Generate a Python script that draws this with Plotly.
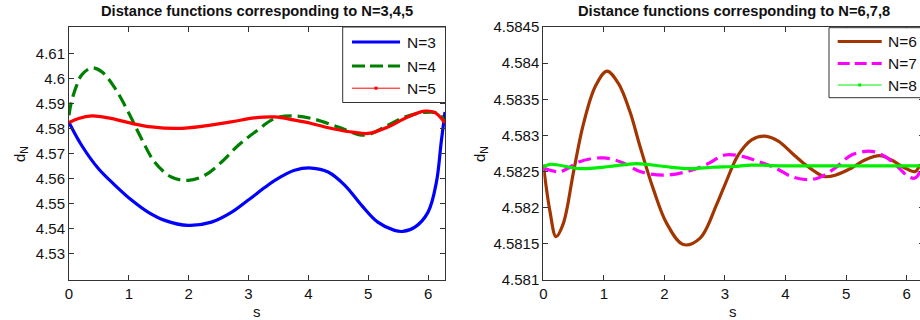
import plotly.graph_objects as go

# ---------------- data ----------------
s3 = [0, 0.21, 0.49, 0.77, 1.05, 1.32, 1.60, 1.99, 2.38, 2.72, 2.99, 3.27, 3.44, 3.77,
      4.05, 4.33, 4.61, 4.89, 5.16, 5.44, 5.58, 5.78, 6.0, 6.14, 6.22, 6.2832]
d3 = [4.5824, 4.5733, 4.5640, 4.5573, 4.5513, 4.5466, 4.5433, 4.5413, 4.5426, 4.5466,
      4.5513, 4.5564, 4.5593, 4.5633, 4.5642, 4.5626, 4.5573, 4.5493, 4.5426, 4.5393,
      4.5389, 4.5406, 4.5466, 4.5586, 4.5746, 4.5866]

s4 = [0, 0.04, 0.13, 0.21, 0.38, 0.55, 0.77, 0.99, 1.21, 1.43, 1.71, 1.99, 2.27, 2.55,
      2.83, 3.11, 3.44, 3.72, 4.05, 4.5, 4.94, 5.33, 5.61, 5.94, 6.17, 6.2832]
d4 = [4.5853, 4.5906, 4.5973, 4.6013, 4.6042, 4.6026, 4.5960, 4.5866, 4.5760, 4.5666,
      4.5606, 4.5593, 4.5613, 4.5666, 4.5733, 4.5786, 4.5840, 4.5850, 4.5840, 4.5806,
      4.5773, 4.5813, 4.5846, 4.5864, 4.5860, 4.5826]

s5 = [0, 0.16, 0.38, 0.66, 1.05, 1.38, 1.82, 2.27, 2.71, 3.10, 3.44, 3.77, 4.05, 4.39,
      4.77, 5.0, 5.33, 5.61, 5.94, 6.11, 6.2832]
d5 = [4.5824, 4.5840, 4.5850, 4.5842, 4.5820, 4.5806, 4.5800, 4.5810, 4.5826, 4.5842,
      4.5846, 4.5833, 4.5820, 4.5800, 4.5784, 4.5780, 4.5806, 4.5840, 4.5869, 4.5864,
      4.5822]

s6 = [0, 0.11, 0.21, 0.33, 0.50, 0.66, 0.86, 1.05, 1.24, 1.43, 1.60, 1.82, 2.04, 2.31,
      2.59, 2.86, 3.0, 3.22, 3.44, 3.66, 3.88, 4.10, 4.32, 4.54, 4.65, 4.82, 5.09, 5.31,
      5.56, 5.75, 5.97, 6.14, 6.22]
d6 = [4.58260, 4.58195, 4.58160, 4.58178, 4.58250, 4.58315, 4.58368, 4.58389, 4.58372,
      4.58333, 4.58284, 4.58225, 4.58178, 4.58149, 4.58158, 4.58204, 4.58232, 4.58273,
      4.58294, 4.58299, 4.58292, 4.58276, 4.58260, 4.58247, 4.58243, 4.58245, 4.58255,
      4.58266, 4.58272, 4.58266, 4.58255, 4.58250, 4.58260]

s7 = [0, 0.28, 0.61, 0.99, 1.32, 1.60, 1.98, 2.37, 2.70, 3.0, 3.28, 3.55, 3.83, 4.10,
      4.32, 4.54, 4.82, 5.09, 5.42, 5.64, 5.81, 6.03, 6.14, 6.22]
d7 = [4.58255, 4.58250, 4.58264, 4.58269, 4.58262, 4.58250, 4.58245, 4.58250, 4.58260,
      4.58273, 4.58271, 4.58264, 4.58255, 4.58243, 4.58239, 4.58241, 4.58255, 4.58273,
      4.58278, 4.58271, 4.58260, 4.58243, 4.58241, 4.58250]

s8 = [0, 0.11, 0.61, 1.1, 1.54, 2.0, 2.42, 2.8, 3.14, 3.44, 3.9, 4.5, 5.0, 5.5, 6.0, 6.22]
d8 = [4.58256, 4.58260, 4.58254, 4.58257, 4.58261, 4.58257, 4.58254, 4.58256, 4.58257,
      4.58259, 4.58258, 4.58258, 4.58258, 4.58258, 4.58258, 4.58258]

x_ticks = [0, 1, 2, 3, 4, 5, 6]
y_ticks_left = [4.53, 4.54, 4.55, 4.56, 4.57, 4.58, 4.59, 4.60, 4.61]
y_ticks_left_text = ["4.53", "4.54", "4.55", "4.56", "4.57", "4.58", "4.59", "4.6", "4.61"]
y_ticks_right = [4.581, 4.5815, 4.582, 4.5825, 4.583, 4.5835, 4.584, 4.5845]
y_ticks_right_text = ["4.581", "4.5815", "4.582", "4.5825", "4.583", "4.5835", "4.584", "4.5845"]

names_left = ["N=3", "N=4", "N=5"]
names_right = ["N=6", "N=7", "N=8"]
colors_left = ["#0000FF", "#008000", "#FF0000"]
colors_right = ["#A33600", "#FF00FF", "#00EE00"]

# ---------------- figure ----------------
W, H = 924, 320          # right panel runs slightly past the 920 px window, as in the reference
FONT = "Liberation Sans, Arial, sans-serif"
AX = "#333333"
TXT = "#111111"
DASH = "13px,6px"
LW = 3.2

fig = go.Figure()

def curve(x, y, color, dash, xa, ya, name):
    fig.add_trace(go.Scatter(
        x=x, y=y, mode="lines", name=name, showlegend=False,
        line=dict(color=color, width=LW, dash=dash, shape="spline", smoothing=1.0),
        xaxis=xa, yaxis=ya, hoverinfo="skip"))

curve(s3, d3, colors_left[0], "solid", "x", "y", names_left[0])
curve(s4, d4, colors_left[1], DASH, "x", "y", names_left[1])
curve(s5, d5, colors_left[2], "solid", "x", "y", names_left[2])
curve(s6, d6, colors_right[0], "solid", "x2", "y2", names_right[0])
curve(s7, d7, colors_right[1], DASH, "x2", "y2", names_right[1])
curve(s8, d8, colors_right[2], "solid", "x2", "y2", names_right[2])

ytop = 1 - 27 / H
ybot = 1 - 280 / H
axcommon = dict(showline=True, linecolor=AX, linewidth=1, ticks="inside", ticklen=5,
                tickcolor=AX, showgrid=False, zeroline=False, automargin=False,
                mirror="allticks", tickfont=dict(family=FONT, size=15, color=TXT))

fig.update_layout(
    width=W, height=H, margin=dict(l=0, r=0, t=0, b=0, autoexpand=False),
    paper_bgcolor="white", plot_bgcolor="white",
    font=dict(family=FONT, color=TXT), showlegend=False,
    xaxis=dict(domain=[69 / W, 445 / W], range=[0, 6.2832], tickvals=x_ticks,
               anchor="y", **axcommon),
    yaxis=dict(domain=[ybot, ytop], range=[4.5195, 4.6205], tickvals=y_ticks_left,
               ticktext=y_ticks_left_text, anchor="x", **axcommon),
    xaxis2=dict(domain=[543.3 / W, 923.8 / W], range=[0, 6.2832], tickvals=x_ticks,
                anchor="y2", **axcommon),
    yaxis2=dict(domain=[ybot, ytop], range=[4.581, 4.5845], tickvals=y_ticks_right,
                ticktext=y_ticks_right_text, anchor="x2", **axcommon),
)

def px(x):
    return x / W

def py(y):
    return 1 - y / H

def ann(text, x, y, size=14, bold=False, angle=0, xanchor="center"):
    fig.add_annotation(text=("<b>%s</b>" % text) if bold else text, x=px(x), y=py(y),
                       xref="paper", yref="paper", showarrow=False, textangle=angle,
                       xanchor=xanchor, yanchor="middle",
                       font=dict(family=FONT, size=size, color=TXT))

# ----- legend boxes (MATLAB style: long key line, text to the right) -----
def legend_box(x0, x1, y0, y1, line_x0, line_x1, text_x, rows, names, colors, styles):
    fig.add_shape(type="rect", xref="paper", yref="paper", x0=px(x0), x1=px(x1),
                  y0=py(y1), y1=py(y0), fillcolor="white", line=dict(color=AX, width=1),
                  layer="above")
    for yy, nm, col, st in zip(rows, names, colors, styles):
        if st == "dotline":
            w, dash = 1, "solid"
        else:
            w, dash = LW, st
        fig.add_shape(type="line", xref="paper", yref="paper", x0=px(line_x0), x1=px(line_x1),
                      y0=py(yy), y1=py(yy), line=dict(color=col, width=w, dash=dash),
                      layer="above")
        if st == "dotline":
            xm = (line_x0 + line_x1) / 2
            fig.add_shape(type="rect", xref="paper", yref="paper", x0=px(xm - 1.5), x1=px(xm + 1.5),
                          y0=py(yy + 1.5), y1=py(yy - 1.5), fillcolor=col,
                          line=dict(color=col, width=0), layer="above")
        ann(nm, text_x, yy + 0.5, size=15.5, xanchor="left")

legend_box(342.7, 445.5, 27, 102.5, 352, 400, 404.5, [42, 66, 88.2],
           names_left, colors_left, ["solid", "13px,5px", "dotline"])
legend_box(829, 923.8, 27.7, 97.7, 837.7, 881.7, 885.5, [41.5, 63.5, 85],
           names_right, colors_right, ["solid", "12px,5px", "dotline"])

ann("Distance functions corresponding to N=3,4,5", 257, 11, size=14.7, bold=True)
ann("Distance functions corresponding to N=6,7,8", 734, 11, size=14.7, bold=True)
ann("d<sub>N</sub>", 20, 154, size=15, angle=-90)
ann("d<sub>N</sub>", 480, 154, size=15, angle=-90)
ann("s", 257, 311, size=15)
ann("s", 733, 311, size=15)

fig.write_html("out.html", config={"displayModeBar": False, "staticPlot": True},
               post_script="document.body.style.margin='0';document.body.style.overflow='hidden';")
